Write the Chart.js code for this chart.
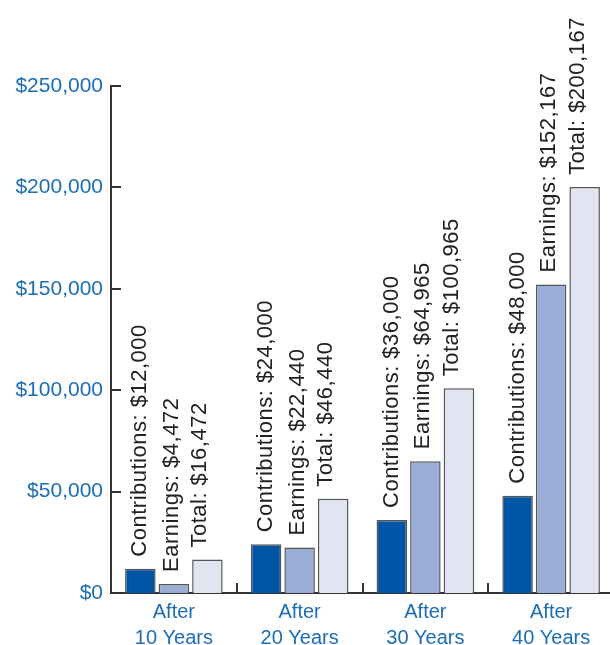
<!DOCTYPE html>
<html>
<head>
<meta charset="utf-8">
<script src="https://cdn.jsdelivr.net/npm/chart.js@4.4.1/dist/chart.umd.min.js"></script>
<style>
html,body{margin:0;padding:0;background:#fff;overflow:hidden;}
canvas{display:block;}
</style>
</head>
<body>
<canvas id="c" width="614" height="645"></canvas>
<script>
const categories = [['After','10 Years'],['After','20 Years'],['After','30 Years'],['After','40 Years']];
const seriesNames = ['Contributions','Earnings','Total'];
const contributions = [12000, 24000, 36000, 48000];
const earnings = [4472, 22440, 64965, 152167];
const totals = [16472, 46440, 100965, 200167];
const yTicks = [0, 50000, 100000, 150000, 200000, 250000];

const BLUE_TEXT = '#1b6db5';
const fmt = v => '$' + v.toLocaleString('en-US');

const axisTicks = {
  id: 'axisTicks',
  afterDraw(chart) {
    const ctx = chart.ctx, x = chart.scales.x, y = chart.scales.y, a = chart.chartArea;
    ctx.save();
    ctx.strokeStyle = '#333';
    ctx.lineWidth = 2;
    ctx.beginPath();
    yTicks.forEach(v => {
      const py = Math.round(y.getPixelForValue(v));
      ctx.moveTo(a.left, py); ctx.lineTo(a.left + 10, py);
    });
    for (let i = 0; i < categories.length - 1; i++) {
      const px = Math.round((x.getPixelForValue(i) + x.getPixelForValue(i + 1)) / 2);
      ctx.moveTo(px, a.bottom); ctx.lineTo(px, a.bottom - 10);
    }
    ctx.stroke();
    ctx.restore();
  }
};

const barLabels = {
  id: 'barLabels',
  afterDatasetsDraw(chart) {
    const ctx = chart.ctx;
    const shifts = [6, 4, -1];
    ctx.save();
    ctx.fillStyle = '#222';
    ctx.font = '22px "Liberation Sans", Arial, sans-serif';
    if ('letterSpacing' in ctx) ctx.letterSpacing = '0.5px';
    ctx.textAlign = 'left';
    ctx.textBaseline = 'alphabetic';
    chart.data.datasets.forEach((ds, di) => {
      chart.getDatasetMeta(di).data.forEach((bar, i) => {
        ctx.save();
        ctx.translate(bar.x + shifts[di], bar.y - 12);
        ctx.rotate(-Math.PI / 2);
        ctx.fillText(seriesNames[di] + ': ' + fmt(ds.data[i]), 0, 0);
        ctx.restore();
      });
    });
    ctx.restore();
  }
};

const border = { borderColor: '#555', borderWidth: 1.5, borderSkipped: 'bottom' };

new Chart(document.getElementById('c'), {
  type: 'bar',
  data: {
    labels: categories,
    datasets: [
      Object.assign({ label: seriesNames[0], data: contributions, backgroundColor: '#0055a4' }, border),
      Object.assign({ label: seriesNames[1], data: earnings, backgroundColor: '#9aadd6' }, border),
      Object.assign({ label: seriesNames[2], data: totals, backgroundColor: '#e1e5f2' }, border)
    ]
  },
  options: {
    responsive: false,
    animation: false,
    events: [],
    layout: { padding: { top: 86, left: 0, right: 0, bottom: 0 } },
    datasets: { bar: { categoryPercentage: 0.8, barPercentage: 0.91 } },
    plugins: { legend: { display: false }, tooltip: { enabled: false } },
    scales: {
      x: {
        grid: { display: false, drawTicks: false },
        border: { display: true, color: '#333', width: 2 },
        ticks: { color: BLUE_TEXT, padding: 6, font: { family: '"Liberation Sans", Arial, sans-serif', size: 20, lineHeight: 1.3 }, maxRotation: 0 },
        afterFit(s) { s.height = 52; }
      },
      y: {
        min: 0, max: 250000,
        grid: { display: false, drawTicks: false },
        border: { display: true, color: '#333', width: 2 },
        ticks: {
          stepSize: 50000, color: BLUE_TEXT, padding: 8,
          font: { family: '"Liberation Sans", Arial, sans-serif', size: 21 },
          callback: v => fmt(v)
        },
        afterFit(s) { s.width = 111; }
      }
    }
  },
  plugins: [axisTicks, barLabels]
});
</script>
</body>
</html>
